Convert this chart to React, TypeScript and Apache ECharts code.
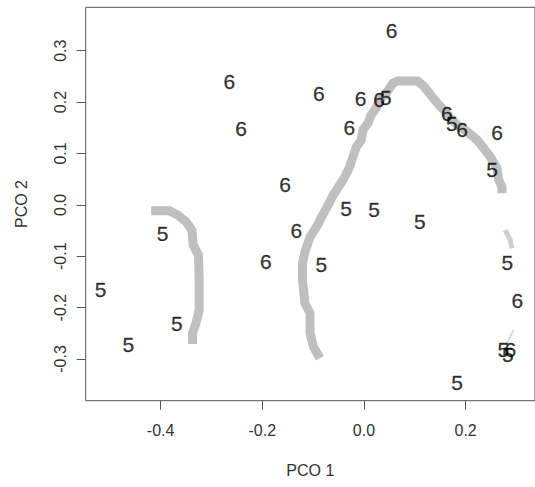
import React, { useEffect, useRef } from "react";
import * as echarts from "echarts";

// Labelled points (group "5" and group "6"), [PCO 1, PCO 2]
const group5Points: number[][] = [
  [0.0433, 0.209],
  [0.173, 0.159],
  [0.252, 0.069],
  [-0.0353, -0.0065],
  [0.02, -0.0097],
  [0.11, -0.0324],
  [-0.396, -0.056],
  [-0.084, -0.117],
  [0.282, -0.113],
  [-0.518, -0.164],
  [-0.368, -0.23],
  [-0.4635, -0.271],
  [0.274, -0.281],
  [0.283, -0.292],
  [0.183, -0.346],
];
const group6Points: number[][] = [
  [0.0546, 0.339],
  [-0.265, 0.241],
  [-0.0886, 0.217],
  [-0.0067, 0.207],
  [0.03, 0.205],
  [-0.2417, 0.149],
  [-0.0286, 0.151],
  [0.163, 0.178],
  [0.193, 0.146],
  [0.262, 0.141],
  [-0.155, 0.04],
  [-0.133, -0.05],
  [-0.193, -0.11],
  [0.302, -0.187],
  [0.288, -0.282],
];

// Contour traces
const contourLeft: number[][] = [
  [-0.4186, -0.0114], [-0.3828, -0.0114], [-0.3666, -0.0198], [-0.3502, -0.0328],
  [-0.3385, -0.049], [-0.336, -0.078], [-0.3256, -0.0976], [-0.3242, -0.146],
  [-0.3242, -0.2047], [-0.3307, -0.2306], [-0.3373, -0.25], [-0.3373, -0.271],
];
const contourArch: number[][] = [
  [-0.0866, -0.2987], [-0.0996, -0.276], [-0.106, -0.25], [-0.106, -0.211],
  [-0.116, -0.192], [-0.121, -0.146], [-0.121, -0.114], [-0.116, -0.091],
  [-0.106, -0.062], [-0.093, -0.0425], [-0.083, -0.023], [-0.0703, -0.0003],
  [-0.0605, 0.019], [-0.0475, 0.0386], [-0.0377, 0.0548], [-0.028, 0.0743],
  [-0.0215, 0.0937], [-0.015, 0.113], [-0.0053, 0.126], [-0.002, 0.1457],
  [0.0078, 0.1587], [0.0143, 0.175], [0.024, 0.188], [0.0306, 0.204],
  [0.0436, 0.217], [0.0566, 0.2366], [0.0664, 0.241], [0.1055, 0.241],
  [0.1185, 0.23], [0.1315, 0.2138], [0.1445, 0.1976], [0.1576, 0.1846],
  [0.1706, 0.1684], [0.1836, 0.1554], [0.2031, 0.1424], [0.2227, 0.1262],
  [0.2357, 0.11], [0.2487, 0.0937], [0.2617, 0.0711], [0.265, 0.0484],
  [0.2715, 0.0353], [0.2715, 0.0225],
];
const contourRightMid: number[][] = [
  [0.278, -0.049], [0.2877, -0.0684], [0.291, -0.0846],
];
const contourRightLow: number[][] = [
  [0.281, -0.2695], [0.2943, -0.2436],
];

const xTicks = [-0.4, -0.2, 0.0, 0.2];
const yTicks = [-0.3, -0.2, -0.1, 0.0, 0.1, 0.2, 0.3];

const FONT = '"Liberation Sans", Arial, sans-serif';

export default function App() {
  const ref = useRef<HTMLDivElement>(null);
  useEffect(() => {
    if (!ref.current) return;
    const chart = echarts.init(ref.current, null, { renderer: "svg" });
    const contour = (data: number[][], width: number, color: string) => ({
      type: "line",
      data,
      showSymbol: false,
      symbol: "none",
      silent: true,
      z: 1,
      lineStyle: { width, color, cap: "butt", join: "miter" },
    });
    const labels = (data: number[][], text: string) => ({
      type: "scatter",
      data,
      symbolSize: 0.1,
      z: 5,
      itemStyle: { color: "transparent" },
      label: {
        show: true,
        position: "inside",
        formatter: text,
        color: "#000",
        fontSize: 21,
        fontFamily: FONT,
        textBorderColor: "#000",
        textBorderWidth: 0.3,
      },
    });
    chart.setOption({
      animation: false,
      backgroundColor: "#ffffff",
      grid: {
        left: 85.7,
        top: 7.3,
        width: 452.6,
        height: 393.4,
        show: true,
        borderColor: "#555",
        borderWidth: 1,
        backgroundColor: "transparent",
      },
      xAxis: {
        type: "value",
        min: -0.54746,
        max: 0.33652,
        name: "PCO 1",
        nameLocation: "middle",
        nameGap: 62,
        nameTextStyle: { fontSize: 16, color: "#333", fontFamily: FONT },
        axisLine: { show: false, onZero: false },
        axisTick: {
          show: true,
          length: 9,
          customValues: xTicks,
          lineStyle: { color: "#555" },
        },
        axisLabel: {
          customValues: xTicks,
          margin: 22,
          fontSize: 16,
          color: "#333",
          fontFamily: FONT,
          formatter: (v: number) => v.toFixed(1),
        },
        splitLine: { show: false },
      },
      yAxis: {
        type: "value",
        min: -0.38118,
        max: 0.38449,
        name: "PCO 2",
        nameLocation: "middle",
        nameGap: 56,
        nameTextStyle: { fontSize: 16, color: "#333", fontFamily: FONT },
        axisLine: { show: false, onZero: false },
        axisTick: {
          show: true,
          length: 9,
          customValues: yTicks,
          lineStyle: { color: "#555" },
        },
        axisLabel: {
          customValues: yTicks,
          rotate: 90,
          margin: 17,
          fontSize: 16,
          color: "#333",
          fontFamily: FONT,
          formatter: (v: number) => v.toFixed(1),
        },
        splitLine: { show: false },
      },
      series: [
        contour(contourLeft, 9, "#bfbfbf"),
        contour(contourArch, 9, "#bfbfbf"),
        contour(contourRightMid, 5, "#cfcfcf"),
        contour(contourRightLow, 2, "#dadada"),
        labels(group5Points, "5"),
        labels(group6Points, "6"),
      ],
    });
    return () => chart.dispose();
  }, []);
  return (
    <div
      ref={ref}
      style={{ position: "absolute", left: 0, top: 0, width: 535, height: 487 }}
    />
  );
}
